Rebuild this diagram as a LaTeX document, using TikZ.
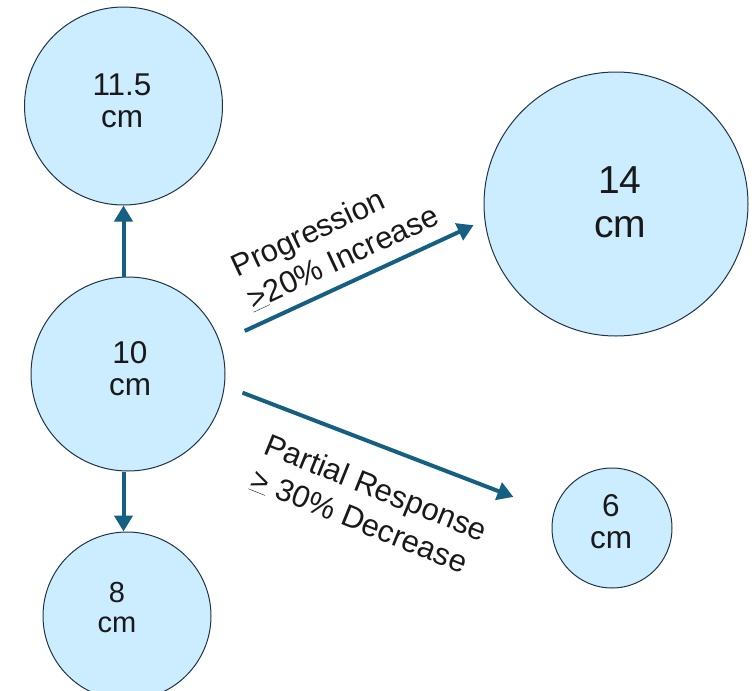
\documentclass[tikz,border=0pt]{standalone}
\usepackage{fontspec}
\setmainfont{Liberation Sans}
\usetikzlibrary{arrows.meta}

\definecolor{discfill}{RGB}{204,236,255}
\definecolor{discline}{RGB}{32,52,72}
\definecolor{flow}{RGB}{21,96,130}
\definecolor{ink}{RGB}{25,25,25}

\newcommand{\geqbar}{\underline{>}}

\begin{document}
\begin{tikzpicture}[x=1pt,y=-1pt,
  disc/.style={circle, draw=discline, line width=1pt, fill=discfill, inner sep=0pt},
  val/.style={text=ink, align=center, inner sep=0pt, font=\fontsize{31.5}{32}\selectfont},
  lbl/.style={text=ink, align=left, inner sep=0pt, font=\fontsize{31}{37}\selectfont},
  flowarrow/.style={draw=flow, line width=4pt, -{Triangle[length=16pt,width=18pt]}}]

\useasboundingbox (0,0) rectangle (756,691);
\clip (0,0) rectangle (756,691);

% size circles
\node[disc, minimum size=198pt] (eleven)   at (123.5,106) {};
\node[disc, minimum size=194pt] (ten)      at (128,374)   {};
\node[disc, minimum size=168pt] (eight)    at (127,616)   {};
\node[disc, minimum size=264pt] (fourteen) at (616,204)   {};
\node[disc, minimum size=120pt] (six)      at (612,528)   {};

% values
\node[val] (elevenT)   at (122,101) {11.5\\cm};
\node[val] (tenT)      at (130,369) {10\\cm};
\node[val, font=\fontsize{29}{30}\selectfont] (eightT) at (117,608) {8\\cm};
\node[val, font=\fontsize{39}{44}\selectfont] (fourteenT) at (620,202) {14\\cm};
\node[val] (sixT)      at (611,522) {6\\cm};

% connectors
\draw[flowarrow] (eleven.south |- ten.north) -- (eleven.south);
\draw[flowarrow] (eleven.south |- ten.south) -- (eleven.south |- eight.north);
\draw[flowarrow, shorten <=27pt, shorten >=12pt] (ten.19.7) -- (fourteen.187.6);
\draw[flowarrow, shorten <=19pt, shorten >=43pt] (ten.-7.4) -- (six.165.4);

% connector labels
\node[lbl, rotate=25] (prog) at (335,241) {Progression\\\geqbar20\% Increase};
\node[lbl, rotate=-22] (resp) at (369,505) {Partial Response\\\geqbar\ 30\% Decrease};
\end{tikzpicture}
\end{document}
